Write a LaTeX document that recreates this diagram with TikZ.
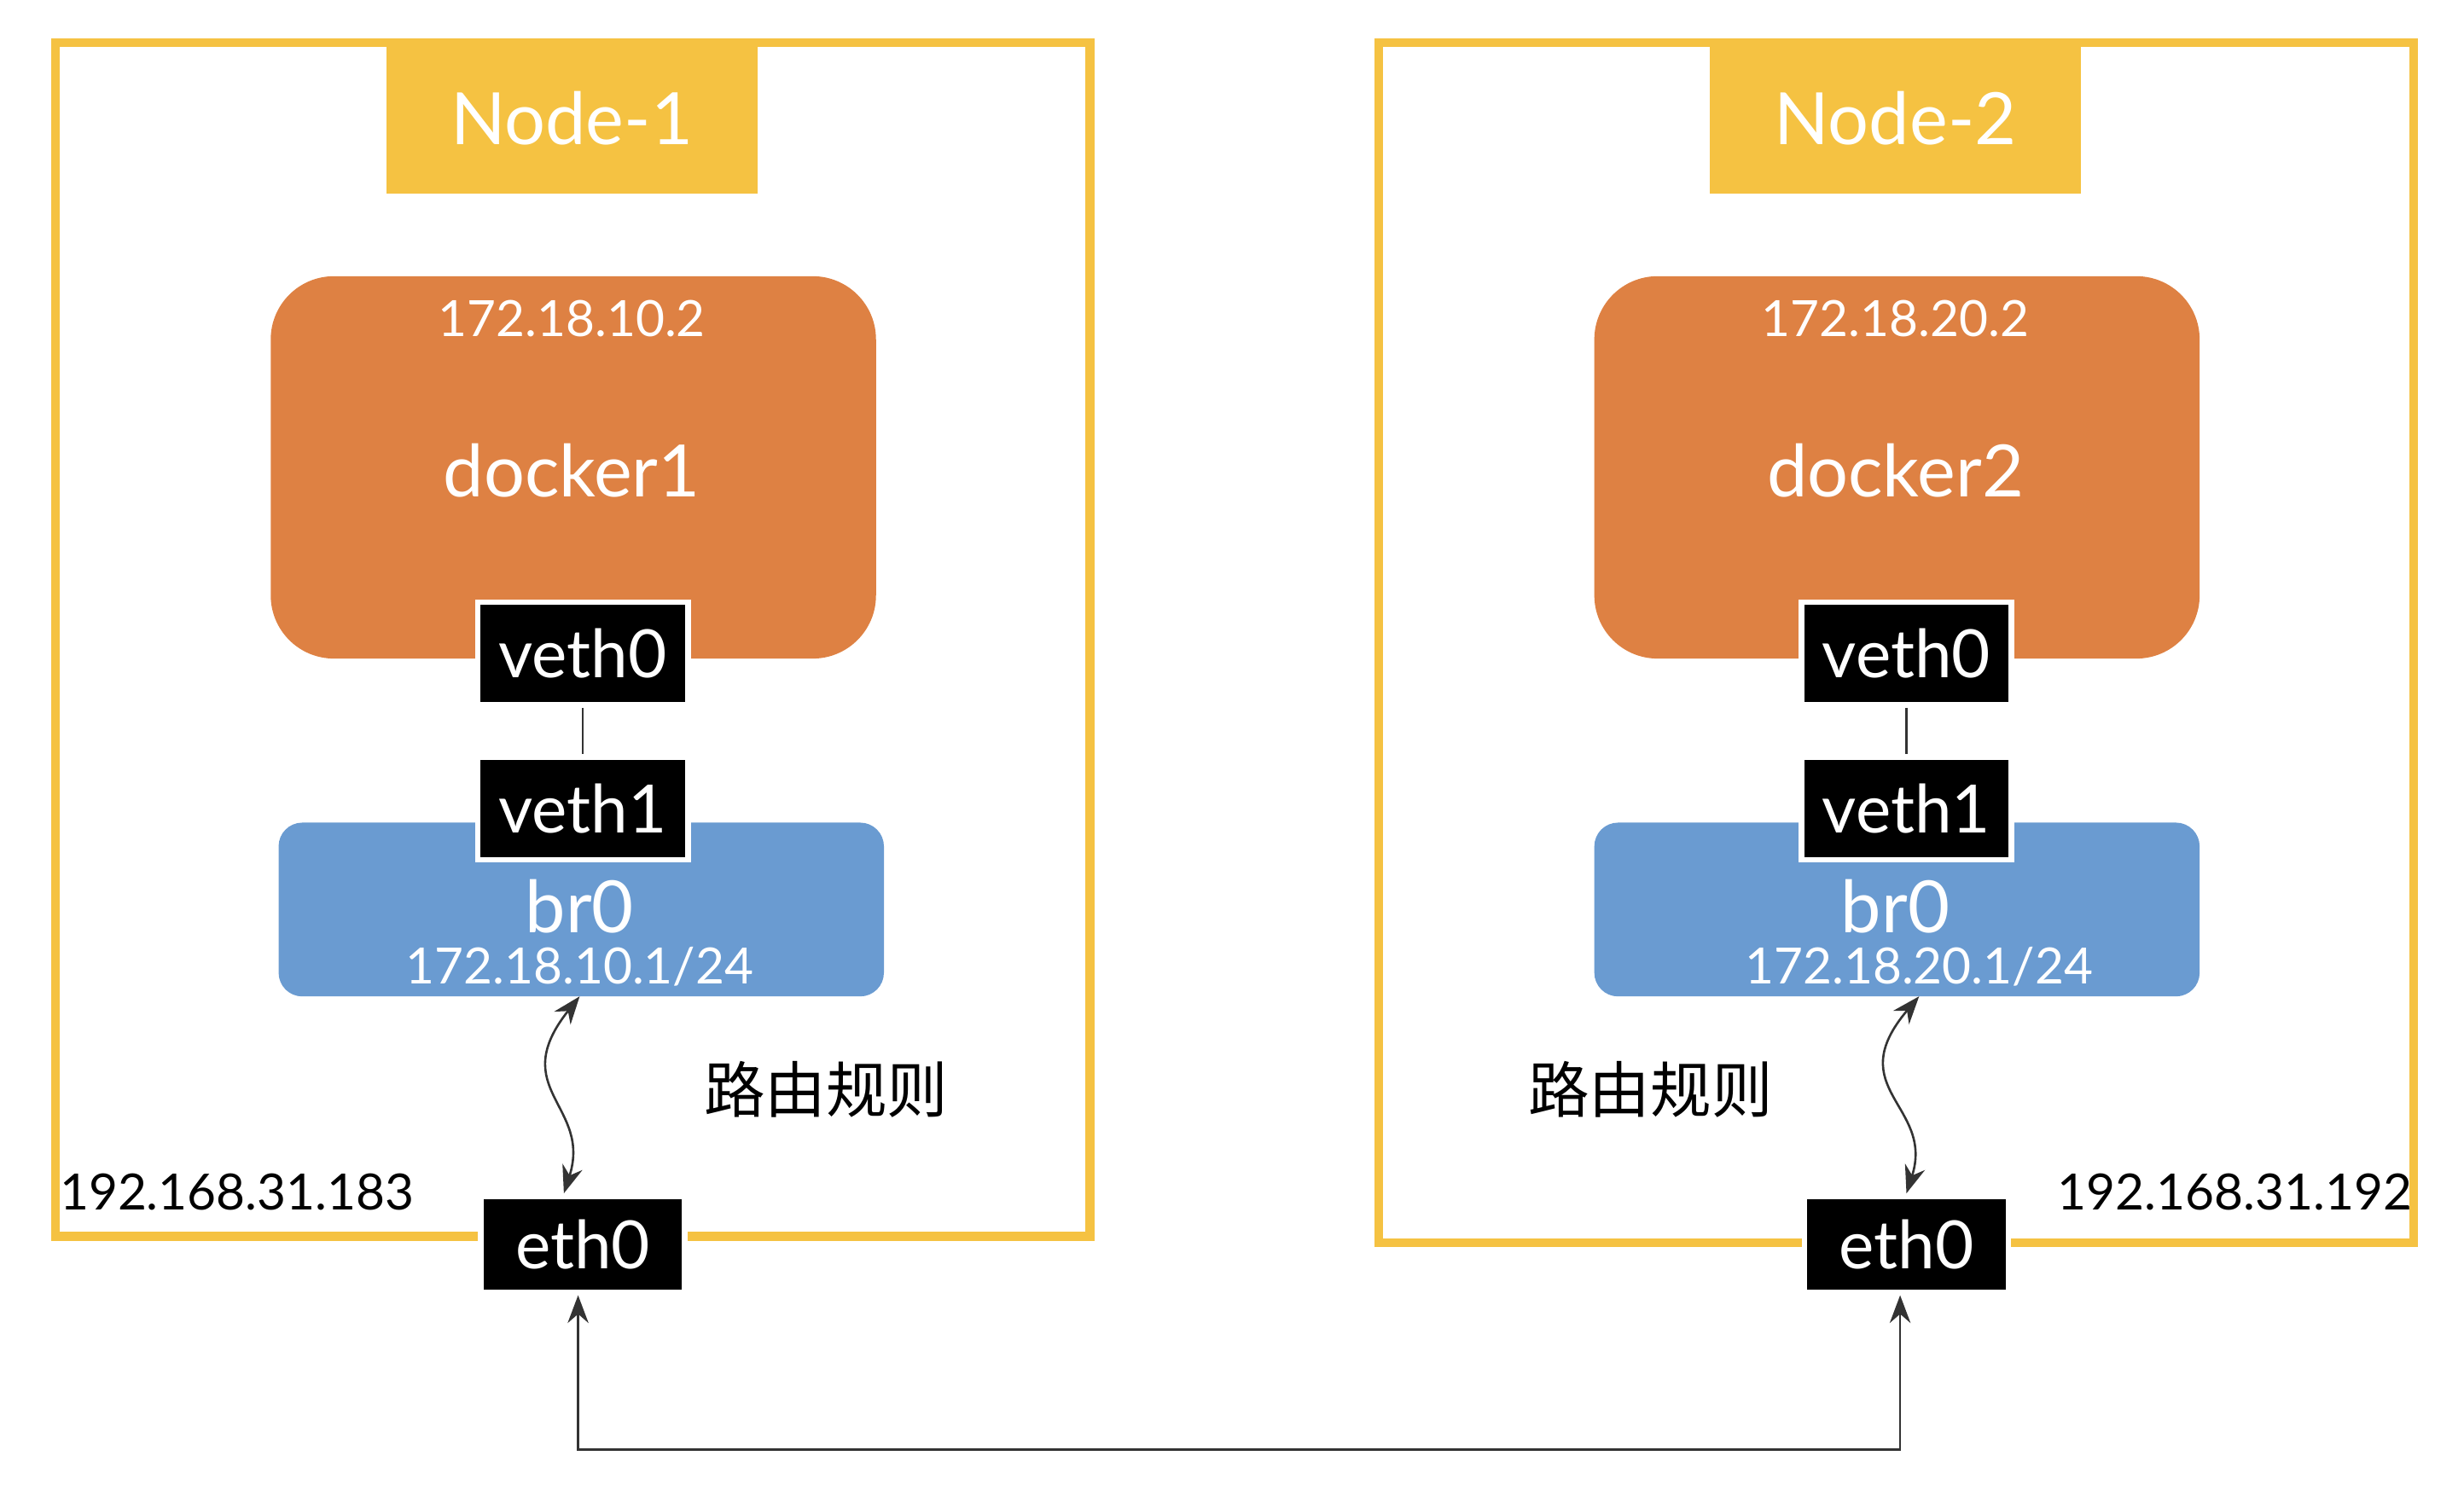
\documentclass[tikz,border=0pt]{standalone}
\usepackage{fontspec}
\setmainfont{Lato}
\newfontfamily\cjk{Noto Sans CJK SC}
\usepackage{tikz}
\usetikzlibrary{arrows.meta}
\definecolor{nodeyellow}{HTML}{F5C242}
\definecolor{dockerorange}{HTML}{DE8143}
\definecolor{bridgeblue}{HTML}{6A9BD1}
\tikzstyle{frame} = [draw=nodeyellow, line width=1.6pt]
\tikzstyle{title} = [fill=nodeyellow, text=white, font=\fontsize{13}{15}\selectfont, minimum width=2.35cm, minimum height=0.95cm]
\tikzstyle{docker} = [fill=dockerorange, rounded corners=0.4cm, minimum width=3.83cm, minimum height=2.42cm]
\tikzstyle{bridge} = [fill=bridgeblue, rounded corners=0.15cm, minimum width=3.83cm, minimum height=1.1cm]
\tikzstyle{port} = [fill=black, draw=white, line width=1pt, text=white, font=\fontsize{12}{14}\selectfont, minimum width=1.33cm, minimum height=0.65cm, inner sep=0pt]
\tikzstyle{wtxt} = [text=white, inner sep=0pt]
\tikzstyle{link} = [draw=black!80, line width=0.4pt, {Stealth[length=5pt]}-{Stealth[length=5pt]}]

\begin{document}
\begin{tikzpicture}[x=0.01cm, y=-0.01cm]
  \useasboundingbox (0,0) rectangle (1560,955);

  % node 1
  \draw[frame] (35,27) rectangle (690,783);
  \node[title] (title1) at (362,75) {Node-1};
  \node[docker] (docker1) at (363,296) {};
  \node[wtxt, font=\fontsize{9}{11}\selectfont] (ip1) at (362,202) {172.18.10.2};
  \node[wtxt, font=\fontsize{13}{15}\selectfont] (name1) at (362,298) {docker1};
  \node[bridge] (br1) at (368,576) {};
  \node[wtxt, font=\fontsize{13}{15}\selectfont] (brname1) at (367,574) {br0};
  \node[wtxt, font=\fontsize{9}{11}\selectfont] (brip1) at (367,612) {172.18.10.1/24};
  \node[port] (veth01) at (369,414) {veth0};
  \node[port] (veth11) at (369,512) {veth1};
  \node[port, minimum width=1.29cm, minimum height=0.61cm] (eth01) at (369,788) {eth0};
  \draw[black!80, line width=0.4pt] (veth01) -- (veth11);
  \draw[link] (eth01.north -| 357,0) .. controls (375,700) and (320,690) .. (367,631);
  \node[font=\cjk\fontsize{11}{13}\selectfont] (rule1) at (523,690) {路由规则};
  \node[font=\fontsize{9}{11}\selectfont] (host1) at (150,755) {192.168.31.183};

  % node 2
  \draw[frame] (873,27) rectangle (1528,787);
  \node[title] (title2) at (1200,75) {Node-2};
  \node[docker] (docker2) at (1201,296) {};
  \node[wtxt, font=\fontsize{9}{11}\selectfont] (ip2) at (1200,202) {172.18.20.2};
  \node[wtxt, font=\fontsize{13}{15}\selectfont] (name2) at (1200,298) {docker2};
  \node[bridge] (br2) at (1201,576) {};
  \node[wtxt, font=\fontsize{13}{15}\selectfont] (brname2) at (1200,574) {br0};
  \node[wtxt, font=\fontsize{9}{11}\selectfont] (brip2) at (1215,612) {172.18.20.1/24};
  \node[port] (veth02) at (1207,414) {veth0};
  \node[port] (veth12) at (1207,512) {veth1};
  \node[port, minimum width=1.29cm, minimum height=0.61cm] (eth02) at (1207,788) {eth0};
  \draw[black!80, line width=0.4pt] (veth02) -- (veth12);
  \draw[link] (eth02.north -| 1207,0) .. controls (1225,700) and (1165,690) .. (1215,631);
  \node[font=\cjk\fontsize{11}{13}\selectfont] (rule2) at (1045,690) {路由规则};
  \node[font=\fontsize{9}{11}\selectfont] (host2) at (1415,755) {192.168.31.192};

  % wire between hosts
  \coordinate (wire1) at (366,918);
  \coordinate (wire2) at (1203,918);
  \draw[link] (eth01.south -| wire1) -- (wire1) -- (wire2) -- (eth02.south -| wire2);
\end{tikzpicture}
\end{document}
